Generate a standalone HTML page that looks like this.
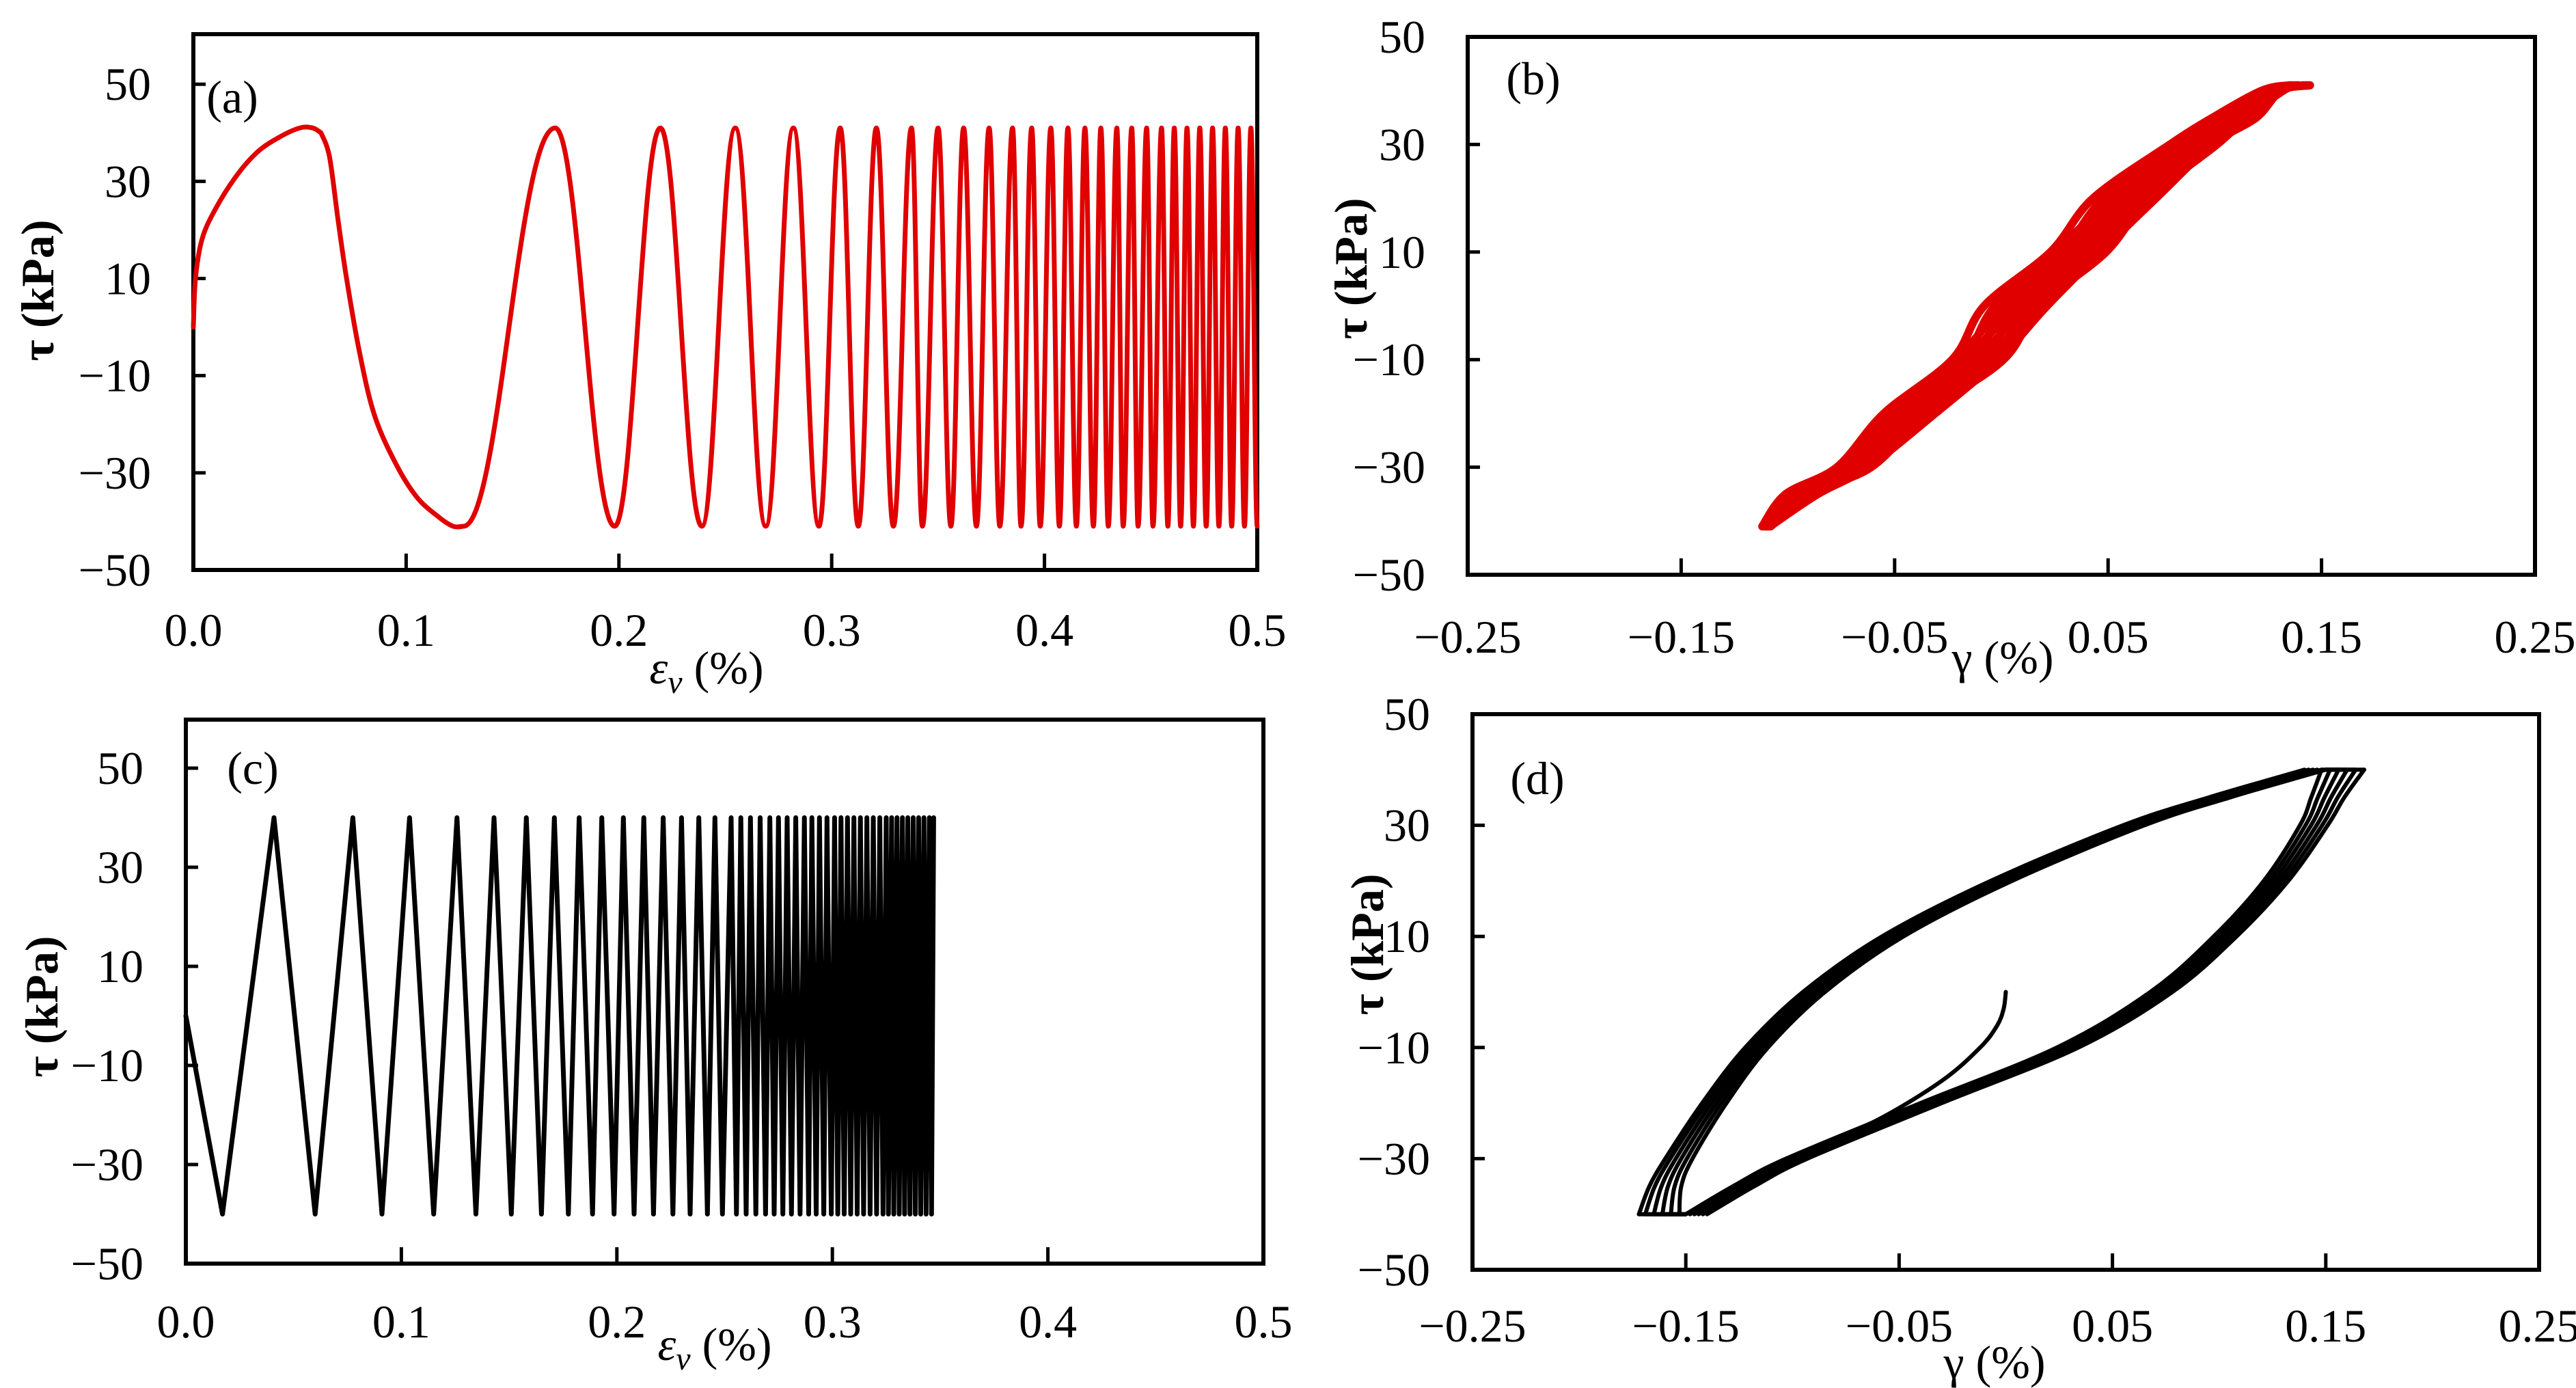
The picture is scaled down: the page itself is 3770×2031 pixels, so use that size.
<!DOCTYPE html>
<html><head><meta charset="utf-8"><style>
html,body{margin:0;padding:0;background:#fff;}
svg{display:block;}
text{font-family:"Liberation Serif",serif;}
</style></head><body>
<svg id="fig" xmlns="http://www.w3.org/2000/svg" width="3770" height="2031" viewBox="0 0 3770 2031"></svg>
<script>
// ---------- Data ----------
const aInitX = [0,0.001,0.004,0.01,0.02,0.03,0.04,0.05,0.056,0.060];
const aInitY = [0,10,18,24,31,36,39,41,41,40];
const aFirstDownX = [0.060,0.064,0.068,0.072,0.078,0.085,0.095,0.105,0.115,0.122,0.127];
const aFirstDownY = [40,35,22,10,-5,-18,-28,-35,-39,-41,-41];
const aPeaks = [0.170,0.2195,0.2547,0.282,0.304,0.321,0.3375,0.350,0.362,0.374,0.385,0.394,0.403,0.411,0.419,0.4265,0.434,0.441,0.448,0.455,0.461,0.467,0.473,0.479,0.485,0.491,0.497];
const aTroughs = [0.1266,0.198,0.239,0.269,0.294,0.3125,0.329,0.3426,0.356,0.368,0.379,0.389,0.398,0.407,0.415,0.423,0.430,0.437,0.444,0.451,0.458,0.464,0.470,0.476,0.482,0.488,0.494,0.500];
const aAmp = 41;
const bTau = [-41,-35,-30,-20,-10,0,10,20,30,35,40,41];
const bCenter = [-0.110,-0.093,-0.069,-0.042,-0.011,0.008,0.036,0.059,0.090,0.110,0.127,0.140];
const bHalfWidth = [0.002,0.005,0.008,0.010,0.012,0.013,0.013,0.013,0.011,0.008,0.005,0.002];
const cPeaks = [0.0409,0.0775,0.1038,0.1258,0.143,0.158,0.171,0.1825,0.193,0.203,0.2125,0.2215,0.230,0.238,0.2455,0.253,0.2575,0.262,0.2665,0.271,0.275,0.279,0.283,0.287,0.2905,0.294,0.2975,0.301,0.304,0.307,0.310,0.313,0.316,0.319,0.322,0.325,0.3275,0.330,0.3325,0.335,0.3375,0.340,0.3425,0.345,0.347];
const cTroughs = [0.017,0.060,0.091,0.115,0.1346,0.151,0.165,0.1775,0.1887,0.1987,0.208,0.217,0.226,0.234,0.242,0.249,0.2555,0.260,0.2645,0.269,0.273,0.277,0.281,0.285,0.289,0.2925,0.296,0.2995,0.3025,0.3055,0.3085,0.3115,0.3145,0.3175,0.3205,0.3235,0.326,0.3285,0.331,0.3335,0.336,0.3385,0.341,0.3435,0.346];
const cAmp = 40;
const dTau = [-40,-35,-30,-20,-10,0,10,20,30,35,40];
const dUpper = [-0.160,-0.156,-0.149,-0.132,-0.112,-0.085,-0.048,0.003,0.065,0.105,0.150];
const dLower = [-0.150,-0.128,-0.103,-0.040,0.024,0.068,0.098,0.122,0.140,0.147,0.155];
const dLeftTip = [-0.153,-0.157,-0.161,-0.165,-0.169,-0.172];
const dRightTip = [0.148,0.152,0.156,0.160,0.164,0.168];
const dLoopShift = [0,-0.002,-0.004,-0.006,-0.008,-0.010];
const dTipWeight = [1,0.55,0.3,0.15,0.07,0.03,0.01,0,0,0,0];
const dInitX = [0,-0.001,-0.004,-0.012,-0.03,-0.06,-0.09,-0.12,-0.150];
const dInitY = [0,-3,-6,-10,-16,-23,-28,-34,-40];

const yTicks50 = [50,30,10,-10,-30,-50];
const xTicksE = [0.0,0.1,0.2,0.3,0.4,0.5];
const xTickLabelsE = ["0.0","0.1","0.2","0.3","0.4","0.5"];
const xTicksG = [-0.25,-0.15,-0.05,0.05,0.15,0.25];
const xTickLabelsG = ["\u22120.25","\u22120.15","\u22120.05","0.05","0.15","0.25"];

const NS="http://www.w3.org/2000/svg";
const svg=document.getElementById('fig');
const FS=68;
function mk(tag,attrs,parent){const e=document.createElementNS(NS,tag);for(const k in attrs)e.setAttribute(k,attrs[k]);(parent||svg).appendChild(e);return e;}
function lbl(v){return v<0?"\u2212"+Math.abs(v):String(v);}

function panel(P){
  const g=mk('g',{});
  
  
  const sx=v=>P.L+(v-P.x0)/(P.x1-P.x0)*(P.R-P.L);
  const sy=v=>P.B-(v-P.y0)/(P.y1-P.y0)*(P.B-P.T);
  P.sx=sx;P.sy=sy;P.g=g;
  const fr=mk('rect',{x:P.L,y:P.T,width:P.R-P.L,height:P.B-P.T,fill:'none',stroke:'#000','stroke-width':6},g);
  
  
  P.yticks.forEach(v=>{
    const y=sy(v);
    if(v>P.y0 && v<P.y1){const t=mk('line',{x1:P.L,x2:P.L+18,y1:y,y2:y,stroke:'#000','stroke-width':5},g);
    
    }
    const tx=mk('text',{x:P.L-62,y:y+23,'font-size':FS,'text-anchor':'end'},g);tx.textContent=lbl(v);
    
    
  });
  P.xticks.forEach((v,i)=>{
    const x=sx(v);
    if(i>0&&i<P.xticks.length-1){const t=mk('line',{x1:x,x2:x,y1:P.B,y2:P.B-24,stroke:'#000','stroke-width':5},g);
    
    }
    const tx=mk('text',{x:x,y:P.xly,'font-size':FS,'text-anchor':'middle'},g);tx.textContent=P.xlabels[i];
    
    
  });
  const pl=mk('text',{x:P.plx,y:P.ply,'font-size':FS,'text-anchor':'middle'},g);pl.textContent=P.panelLabel;
  
  
  const yt=mk('text',{x:0,y:0,'font-size':FS,'font-weight':'bold','text-anchor':'middle',transform:`translate(${P.ytx},${P.yty}) rotate(-90)`},g);
  yt.textContent='\u03c4 (kPa)';
  
  
  const xt=mk('text',{x:P.xtx,y:P.xty,'font-size':FS,'text-anchor':'middle'},g);
  if(P.eps){const s1=mk('tspan',{'font-style':'italic'},xt);s1.textContent='\u03b5';
    const s2=mk('tspan',{'font-style':'italic','font-size':48,dy:14},xt);s2.textContent='v';
    const s3=mk('tspan',{dy:-14},xt);s3.textContent=' (%)';}
  else xt.textContent='\u03b3 (%)';
  
  
  return P;
}
function path(P,d,color,w,name){
  const p=mk('path',{d:d,fill:'none',stroke:color,'stroke-width':w,'stroke-linejoin':'round','stroke-linecap':'round'},P.g);
  
  
  return p;
}
function smooth(pts){
  let d=`M${pts[0][0].toFixed(1)},${pts[0][1].toFixed(1)}`;
  for(let i=0;i<pts.length-1;i++){
    const p0=pts[i-1]||pts[i],p1=pts[i],p2=pts[i+1],p3=pts[i+2]||p2;
    const c1=[p1[0]+(p2[0]-p0[0])/6,p1[1]+(p2[1]-p0[1])/6];
    const c2=[p2[0]-(p3[0]-p1[0])/6,p2[1]-(p3[1]-p1[1])/6];
    d+=`C${c1[0].toFixed(1)},${c1[1].toFixed(1)} ${c2[0].toFixed(1)},${c2[1].toFixed(1)} ${p2[0].toFixed(1)},${p2[1].toFixed(1)}`;
  }
  return d;
}

// ---------- Panel A ----------
const A=panel({name:'panel-a',L:283,R:1840,T:50,B:834,x0:0,x1:0.5,y0:-50,y1:60.3,yticks:yTicks50,xticks:xTicksE,xlabels:xTickLabelsE,xly:945,plx:340,ply:165,ytx:78,yty:425,xtx:1034,xty:1000,eps:true,panelLabel:'(a)'});
{
  let d=smooth(aInitX.map((x,i)=>[A.sx(x),A.sy(aInitY[i])]));
  d+=smooth(aFirstDownX.map((x,i)=>[A.sx(x),A.sy(aFirstDownY[i])])).replace(/^M[^C]*/,'');
  let cur=[A.sx(aTroughs[0]),A.sy(-aAmp)];
  const seq=[];
  for(let i=0;i<aPeaks.length;i++){seq.push([aPeaks[i],aAmp]);if(aTroughs[i+1]!==undefined)seq.push([aTroughs[i+1],-aAmp]);}
  seq.forEach(([x,y])=>{
    const nx=A.sx(x),ny=A.sy(y),dx=nx-cur[0];
    d+=`C${(cur[0]+dx*0.4).toFixed(1)},${cur[1].toFixed(1)} ${(nx-dx*0.4).toFixed(1)},${ny.toFixed(1)} ${nx.toFixed(1)},${ny.toFixed(1)}`;
    cur=[nx,ny];
  });
  path(A,d,'#e00000',7,'series-line-a');
}

// ---------- Panel B ----------
const B=panel({name:'panel-b',L:2148,R:3710,T:54,B:841,x0:-0.25,x1:0.25,y0:-50,y1:50,yticks:yTicks50,xticks:xTicksG,xlabels:xTickLabelsG,xly:955,plx:2244,ply:138,ytx:2000,yty:393,xtx:2931,xty:985,eps:false,panelLabel:'(b)'});
{
  const scales=[1,0.8,0.6,0.4,0.2,0,-0.2,-0.4,-0.6,-0.8,-1];
  scales.forEach((s,k)=>{
    const up=bTau.map((t,i)=>[B.sx(bCenter[i]-bHalfWidth[i]*s+(k%2?0.003:-0.003)*(i%2)),B.sy(t)]);
    path(B,smooth(up),'#e00000',12,'series-band-b');
  });
}

// ---------- Panel C ----------
const C=panel({name:'panel-c',L:272,R:1849,T:1053,B:1849,x0:0,x1:0.5,y0:-50,y1:59.8,yticks:yTicks50,xticks:xTicksE,xlabels:xTickLabelsE,xly:1957,plx:370,ply:1147,ytx:84,yty:1473,xtx:1046,xty:1990,eps:true,panelLabel:'(c)'});
{
  let d=`M${C.sx(0)},${C.sy(0)}`;
  for(let i=0;i<cPeaks.length;i++){
    d+=`L${C.sx(cTroughs[i]).toFixed(1)},${C.sy(-cAmp).toFixed(1)}`;
    d+=`L${C.sx(cPeaks[i]).toFixed(1)},${C.sy(cAmp).toFixed(1)}`;
  }
  path(C,d,'#000',7,'series-line-c');
}

// ---------- Panel D ----------
const D=panel({name:'panel-d',L:2155,R:3716,T:1045,B:1858,x0:-0.25,x1:0.25,y0:-50,y1:50,yticks:yTicks50,xticks:xTicksG,xlabels:xTickLabelsG,xly:1963,plx:2250,ply:1162,ytx:2024,yty:1382,xtx:2919,xty:2016,eps:false,panelLabel:'(d)'});
{
  path(D,smooth(dInitX.map((x,i)=>[D.sx(x),D.sy(dInitY[i])])),'#000',6,'initial-loading-d');
  const n=dTau.length;
  dLeftTip.forEach((lt,k)=>{
    const rt=dRightTip[k], sh=dLoopShift[k];
    const up=dTau.map((t,i)=>[D.sx(dUpper[i]+sh*(1-dTipWeight[i])+(lt-dUpper[0])*dTipWeight[i]),D.sy(t)]);
    const lo=dTau.map((t,i)=>[D.sx(dLower[i]-sh*(1-dTipWeight[n-1-i])+(rt-dLower[n-1])*dTipWeight[n-1-i]),D.sy(t)]);
    path(D,smooth(up),'#000',6,'loop-unloading-d');
    path(D,smooth(lo),'#000',6,'loop-loading-d');
    path(D,`M${D.sx(lt)},${D.sy(-40)}L${D.sx(dLower[0])},${D.sy(-40)}`,'#000',6,'loop-bottom-d');
    path(D,`M${D.sx(dUpper[n-1])},${D.sy(40)}L${D.sx(rt)},${D.sy(40)}`,'#000',6,'loop-top-d');
  });
}
</script>
</body></html>
